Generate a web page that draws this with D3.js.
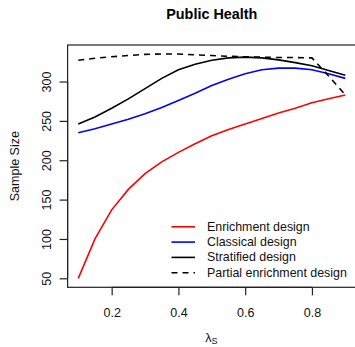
<!DOCTYPE html>
<html>
<head>
<meta charset="utf-8">
<script src="https://cdn.jsdelivr.net/npm/d3@7"></script>
<style>
  html, body { margin: 0; padding: 0; background: #fff; }
  svg { display: block; font-family: "Liberation Sans", Arial, Helvetica, sans-serif; }
</style>
</head>
<body>
<svg id="chart" width="355" height="347"></svg>
<script>
// Sample size as a function of lambda_S for four trial designs
const lambdaS = [0.1, 0.15, 0.2, 0.25, 0.3, 0.35, 0.4, 0.45, 0.5, 0.55, 0.6, 0.65, 0.7, 0.75, 0.8, 0.85, 0.9];
const enrichment = [50, 100, 137, 163, 183, 198, 210, 221, 231, 239, 246, 253, 260, 266, 273, 278, 283];
const classical  = [235, 240, 246, 252, 259, 267, 276, 285, 295, 303, 310, 315, 317, 317, 315, 310, 304];
const stratified = [246, 255, 266, 278, 291, 304, 315, 322, 327, 330, 331, 330, 327.5, 324, 320, 314, 308];
const partial    = [327, 329.5, 331.5, 333, 334.5, 335, 335, 334, 333, 332, 331.5, 331, 330.5, 330.5, 330, 307, 283];

const xTicks = [0.2, 0.4, 0.6, 0.8];
const yTicks = [50, 100, 150, 200, 250, 300];

const seriesNames = ["Enrichment design", "Classical design", "Stratified design", "Partial enrichment design"];
const seriesColors = ["#ff0000", "#0000ff", "#000000", "#000000"];
const seriesDash = [null, null, null, "6,5"];
const seriesValues = [enrichment, classical, stratified, partial];

const svg = d3.select("#chart");
const plot = { left: 67.6, right: 356, top: 45, bottom: 287.3 };

// R-style 4% padding around the data range
const xMin = d3.min(lambdaS), xMax = d3.max(lambdaS);
const allY = seriesValues.flat();
const yMin = d3.min(allY), yMax = d3.max(allY);
const xPad = (xMax - xMin) * 0.04, yPad = (yMax - yMin) * 0.04;

const x = d3.scaleLinear().domain([xMin - xPad, xMax + xPad]).range([plot.left, plot.right]);
const y = d3.scaleLinear().domain([yMin - yPad, yMax + yPad]).range([plot.bottom, plot.top]);

// Title
svg.append("text")
  .attr("x", (plot.left + plot.right) / 2).attr("y", 14)
  .attr("text-anchor", "middle").attr("dominant-baseline", "central")
  .attr("font-size", 14.4).attr("font-weight", "bold")
  .text("Public Health");

// Series lines
const line = d3.line().x((d, i) => x(lambdaS[i])).y(d => y(d));
seriesValues.forEach((vals, k) => {
  svg.append("path")
    .datum(vals)
    .attr("d", line)
    .attr("fill", "none")
    .attr("stroke", seriesColors[k])
    .attr("stroke-width", 1.6)
    .attr("stroke-dasharray", seriesDash[k]);
});

// Plot frame
svg.append("rect")
  .attr("x", plot.left).attr("y", plot.top)
  .attr("width", plot.right - plot.left).attr("height", plot.bottom - plot.top)
  .attr("fill", "none").attr("stroke", "#222").attr("stroke-width", 1.2);

// X axis
const xAxis = svg.append("g")
  .attr("transform", `translate(0,${plot.bottom})`)
  .call(d3.axisBottom(x).tickValues(xTicks).tickSize(8).tickPadding(13).tickFormat(d3.format(".1f")));
xAxis.select(".domain").attr("d", `M${x(xTicks[0])},0H${x(xTicks[xTicks.length - 1])}`)
  .attr("stroke", "#222").attr("stroke-width", 1.2);
xAxis.selectAll(".tick line").attr("stroke", "#222").attr("stroke-width", 1.2);
xAxis.selectAll(".tick text").attr("font-size", 12.5).attr("fill", "#111")
  .attr("font-family", "Liberation Sans, Arial, sans-serif");

// Y axis with rotated tick labels
const yAxis = svg.append("g")
  .attr("transform", `translate(${plot.left},0)`)
  .call(d3.axisLeft(y).tickValues(yTicks).tickSize(8).tickFormat(d3.format("d")));
yAxis.select(".domain").attr("d", `M0,${y(yTicks[0])}V${y(yTicks[yTicks.length - 1])}`)
  .attr("stroke", "#222").attr("stroke-width", 1.2);
yAxis.selectAll(".tick line").attr("stroke", "#222").attr("stroke-width", 1.2);
yAxis.selectAll(".tick text")
  .attr("font-size", 12.5).attr("fill", "#111")
  .attr("font-family", "Liberation Sans, Arial, sans-serif")
  .attr("x", null).attr("dy", null)
  .attr("text-anchor", "middle")
  .attr("dominant-baseline", "central")
  .attr("transform", "translate(-21,0) rotate(-90)");

// Axis titles
const xt = svg.append("text")
  .attr("x", (plot.left + plot.right) / 2 - 0.5).attr("y", 338)
  .attr("text-anchor", "middle").attr("dominant-baseline", "central")
  .attr("font-size", 12.5).attr("fill", "#111");
xt.append("tspan").text("λ");
xt.append("tspan").attr("font-size", 9).attr("dy", 2.5).text("S");

svg.append("text")
  .attr("transform", `translate(15,${(plot.top + plot.bottom) / 2}) rotate(-90)`)
  .attr("text-anchor", "middle").attr("dominant-baseline", "central")
  .attr("font-size", 12.5).attr("fill", "#111")
  .text("Sample Size");

// Legend
const legend = svg.append("g");
const legX0 = 171.5, legX1 = 195, legTextX = 207, legY0 = 226.8, legStep = 15.3;
seriesNames.forEach((name, k) => {
  const yy = legY0 + k * legStep;
  legend.append("line")
    .attr("x1", legX0).attr("x2", legX1).attr("y1", yy).attr("y2", yy)
    .attr("stroke", seriesColors[k]).attr("stroke-width", 1.6)
    .attr("stroke-dasharray", seriesDash[k]);
  legend.append("text")
    .attr("x", legTextX).attr("y", yy)
    .attr("dominant-baseline", "central")
    .attr("font-size", 12.4).attr("fill", "#111")
    .text(name);
});
</script>
</body>
</html>
